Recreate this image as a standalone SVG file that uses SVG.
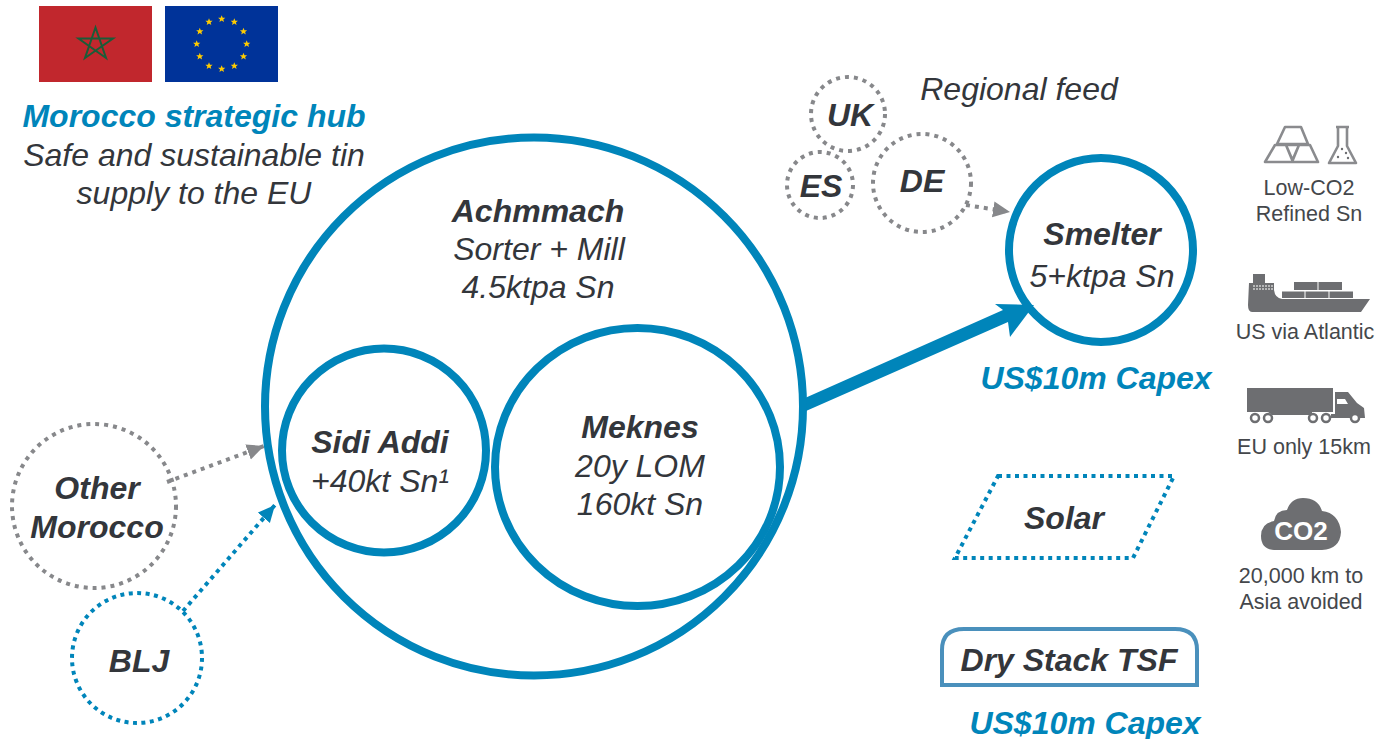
<svg xmlns="http://www.w3.org/2000/svg" xmlns:xlink="http://www.w3.org/1999/xlink" width="1377" height="739" viewBox="0 0 1377 739">
<style>
text{font-family:"Liberation Sans",Arial,sans-serif;text-anchor:middle;fill:#33363b}
.i{font-style:italic;font-size:32px}
.b{font-style:italic;font-weight:bold;font-size:32px}
.blue{fill:#0085BA}
.s{font-size:21.500px;fill:#44474b}
.ring{fill:none;stroke:#0085BA;stroke-width:8}
.gd{fill:none;stroke:#87888b;stroke-width:4;stroke-dasharray:4 5}
.bd{fill:none;stroke:#0085BA;stroke-width:4;stroke-dasharray:4 4.5}
.ic{fill:#6d6e71}
.il{fill:none;stroke:#8a8b8e;stroke-width:2.6;stroke-linejoin:round}
.wh{fill:#fff;stroke:#6d6e71;stroke-width:2.5}
</style>
<defs>
<marker id="ag" markerUnits="userSpaceOnUse" markerWidth="20" markerHeight="18" refX="17" refY="8" orient="auto"><path d="M0 0L17 8L0 16Z" fill="#87888b"/></marker>
<marker id="ab" markerUnits="userSpaceOnUse" markerWidth="20" markerHeight="18" refX="17" refY="8" orient="auto"><path d="M0 0L17 8L0 16Z" fill="#0085BA"/></marker>
<polygon id="st" points="0,-3.800 1,-1.200 3.600,-1.200 1.600,0.500 2.300,3.100 0,1.600 -2.300,3.100 -1.600,0.500 -3.600,-1.200 -1,-1.200" fill="#FFCC00"/>
</defs>

<g id="flag-morocco">
<rect x="39" y="6" width="113" height="76" fill="#C1272D"/>
<path d="M95.500 27.500 L85 58 L113 38.500 H78.500 L106 58 Z" fill="none" stroke="#1A5C38" stroke-width="2"/>
</g>
<g id="flag-eu">
<rect x="165" y="6" width="113" height="76" fill="#003399"/>
<use xlink:href="#st" href="#st" x="221.700" y="19"/><use xlink:href="#st" href="#st" x="234.300" y="22"/><use xlink:href="#st" href="#st" x="243.500" y="31.500"/><use xlink:href="#st" href="#st" x="246.700" y="44"/><use xlink:href="#st" href="#st" x="243.500" y="56.500"/><use xlink:href="#st" href="#st" x="234.300" y="66"/><use xlink:href="#st" href="#st" x="221.700" y="69"/><use xlink:href="#st" href="#st" x="209" y="66"/><use xlink:href="#st" href="#st" x="199.800" y="56.500"/><use xlink:href="#st" href="#st" x="196.700" y="44"/><use xlink:href="#st" href="#st" x="199.800" y="31.500"/><use xlink:href="#st" href="#st" x="209" y="22"/>
</g>
<g id="title">
<text class="b blue" x="194" y="127">Morocco strategic hub</text>
<text class="i" x="194" y="166">Safe and sustainable tin</text>
<text class="i" x="194" y="204">supply to the EU</text>
</g>

<g id="connectors">
<line x1="167" y1="482" x2="264" y2="446" stroke="#87888b" stroke-width="4" stroke-dasharray="4 5" marker-end="url(#ag)"/>
<line x1="183" y1="611" x2="275" y2="505" stroke="#0085BA" stroke-width="4" stroke-dasharray="4 4.500" marker-end="url(#ab)"/>
<line x1="966" y1="205" x2="1010" y2="212" stroke="#87888b" stroke-width="4" stroke-dasharray="4 5" marker-end="url(#ag)"/>
<polygon points="805,398 1003,310 995,304 1034,305 1010,337 1008,322 806,411" fill="#0085BA"/>
</g>

<g id="achmmach">
<circle class="ring" cx="534" cy="406.500" r="269"/>
<text class="b" x="538" y="222">Achmmach</text>
<text class="i" x="539" y="260">Sorter + Mill</text>
<text class="i" x="538" y="298">4.5ktpa Sn</text>
</g>
<g id="sidi-addi">
<circle class="ring" cx="384" cy="450.500" r="102"/>
<text class="b" x="380" y="453">Sidi Addi</text>
<text class="i" x="380" y="492">+40kt Sn¹</text>
</g>
<g id="meknes">
<ellipse class="ring" cx="637.500" cy="467" rx="142.500" ry="139"/>
<text class="b" x="640" y="438">Meknes</text>
<text class="i" x="640" y="477">20y LOM</text>
<text class="i" x="640" y="515">160kt Sn</text>
</g>
<g id="smelter">
<circle class="ring" cx="1101" cy="250" r="92"/>
<text class="b" x="1102" y="245">Smelter</text>
<text class="i" x="1102" y="287">5+ktpa Sn</text>
</g>
<text class="b blue" x="1096" y="389" id="capex-smelter">US$10m Capex</text>

<g id="uk"><circle class="gd" cx="848" cy="114" r="37"/><text class="b" x="850" y="126">UK</text></g>
<g id="es"><circle class="gd" cx="820" cy="185" r="33"/><text class="b" x="821" y="197">ES</text></g>
<g id="de"><circle class="gd" cx="922" cy="183" r="49"/><text class="b" x="922" y="192">DE</text></g>
<text class="i" x="1019" y="100" id="regional-feed">Regional feed</text>

<g id="other-morocco"><circle class="gd" cx="94" cy="506" r="82"/><text class="b" x="97" y="499">Other</text><text class="b" x="97" y="538">Morocco</text></g>
<g id="blj"><circle class="bd" cx="137" cy="658" r="65"/><text class="b" x="139" y="672">BLJ</text></g>

<g id="solar"><polygon class="bd" points="998,476 1174,476 1133,558 955,558"/><text class="b" x="1064" y="529">Solar</text></g>
<g id="tsf"><path d="M942 685V650Q942 629 964 629H1175Q1197 629 1197 650V685Z" fill="none" stroke="#4A90BC" stroke-width="4"/><text class="b" x="1069" y="671">Dry Stack TSF</text></g>
<text class="b blue" x="1085" y="734" id="capex-tsf">US$10m Capex</text>

<g id="icon-refined">
<path class="il" d="M1285 127H1301L1308 144H1277Z M1275 145H1286L1293 162H1265Z M1299 145H1310L1318 162H1292Z M1286 145H1299L1292.500 160Z"/>
<path class="il" d="M1336 127H1349M1338 127V146L1329 163H1356L1347 146V127"/>
<circle class="ic" cx="1342" cy="149" r="1.200"/><circle class="ic" cx="1346" cy="153" r="1.200"/><circle class="ic" cx="1338" cy="157" r="1.200"/><circle class="ic" cx="1348" cy="158" r="1.200"/>
<text class="s" x="1309" y="195">Low-CO2</text><text class="s" x="1309" y="221">Refined Sn</text>
</g>
<g id="icon-ship">
<path class="ic" d="M1249 283H1253V274H1265V283H1274V290Q1275 298 1282 299H1370L1361 312H1252Q1248 312 1248 305Z"/>
<path d="M1253 286H1273M1253 289H1273" stroke="#fff" stroke-width="1.200" stroke-dasharray="2 1" fill="none"/>
<path class="ic" d="M1294 282H1317.500V290H1294ZM1318.500 282H1342V290H1318.500ZM1282 291.500H1304.500V298H1282ZM1305.500 291.500H1328.500V298H1305.500ZM1329.500 291.500H1353V298H1329.500Z"/>
<text class="s" x="1305" y="339">US via Atlantic</text>
</g>
<g id="icon-truck">
<path class="ic" d="M1247 388H1333V412H1312V415H1272L1268 412H1247Z"/>
<path class="ic" d="M1335 392H1348L1357 403L1364 408L1365 418H1331V414H1335Z"/>
<path d="M1337 399H1345L1348 404H1337Z" fill="#fff"/>
<circle class="wh" cx="1255" cy="418" r="4"/><circle class="wh" cx="1268" cy="418" r="4"/><circle class="wh" cx="1313" cy="418" r="4"/><circle class="wh" cx="1326" cy="418" r="4"/><circle class="wh" cx="1355" cy="418" r="4"/>
<text class="s" x="1304" y="454">EU only 15km</text>
</g>
<g id="icon-cloud">
<path class="ic" d="M1274 550Q1261 549 1261 536Q1261 523 1274 521Q1276 510 1287 510Q1291 498 1303 498Q1318 498 1322 511Q1339 513 1341 532Q1340 549 1322 550Z"/>
<text x="1301" y="540" style="font-size:26px;font-weight:bold;fill:#fff">CO2</text>
<text class="s" x="1301" y="583">20,000 km to</text><text class="s" x="1301" y="609">Asia avoided</text>
</g>
</svg>
